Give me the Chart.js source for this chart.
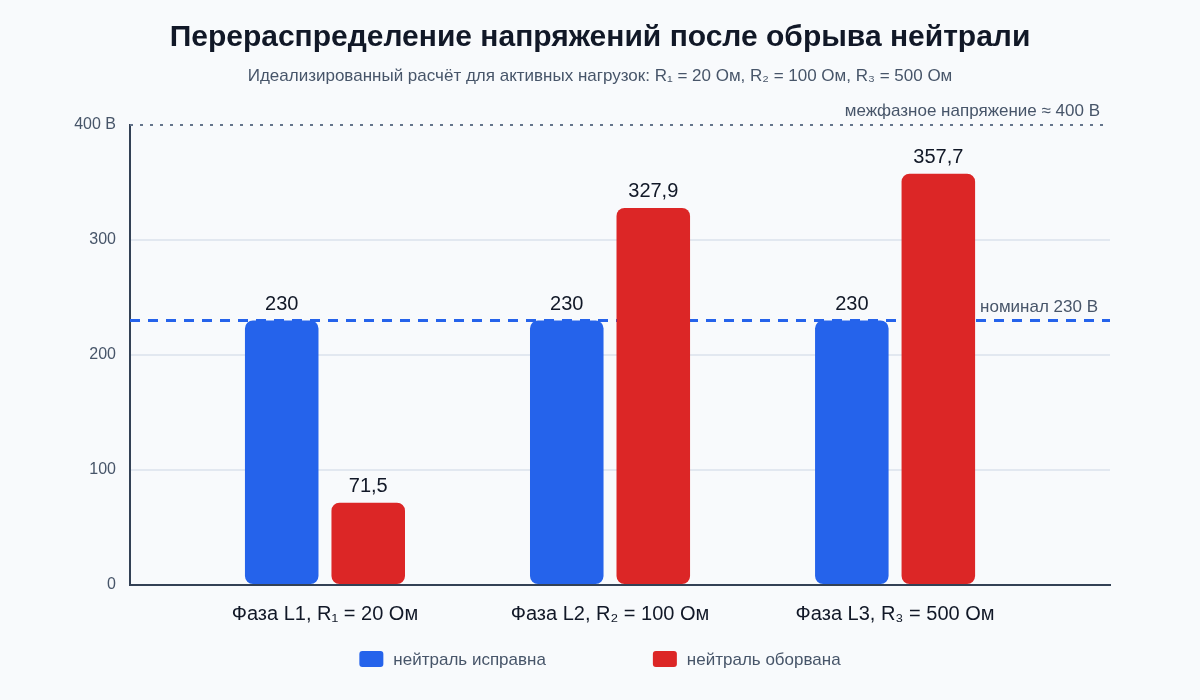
<!DOCTYPE html>
<html lang="ru">
<head>
<meta charset="utf-8">
<title>Перераспределение напряжений</title>
<script src="https://cdn.jsdelivr.net/npm/chart.js@4.4.1/dist/chart.umd.min.js"></script>
<style>
  html, body { margin: 0; padding: 0; background: #f8fafc; }
  #wrap { width: 1200px; height: 700px; }
</style>
</head>
<body>
<div id="wrap"><canvas id="voltageChart" width="1200" height="700"></canvas></div>
<script>
// data
const categories = ["Фаза L1, R₁ = 20 Ом", "Фаза L2, R₂ = 100 Ом", "Фаза L3, R₃ = 500 Ом"];
const seriesNames = ["нейтраль исправна", "нейтраль оборвана"];
const neutralOk = [230, 230, 230];
const neutralBroken = [71.5, 327.9, 357.7];
const yTicks = [0, 100, 200, 300, 400];
const nominalVoltage = 230;
const lineVoltage = 400;

const FONT = "'Liberation Sans', Arial, sans-serif";
const BLUE = "#2563eb";
const RED = "#dc2626";

const fmt = v => String(v).replace(".", ",");

// reference lines (nominal + phase-to-phase)
const refLines = {
    id: "refLines",
    beforeDatasetsDraw(chart) {
        const { ctx, chartArea: a, scales: { y } } = chart;
        ctx.save();

        let py = y.getPixelForValue(lineVoltage);
        ctx.strokeStyle = "#64748b";
        ctx.lineWidth = 2;
        ctx.setLineDash([3, 7]);
        ctx.beginPath();
        ctx.moveTo(a.left, py);
        ctx.lineTo(a.right, py);
        ctx.stroke();
        ctx.setLineDash([]);
        ctx.font = "17px " + FONT;
        ctx.fillStyle = "#475569";
        ctx.textAlign = "right";
        ctx.textBaseline = "alphabetic";
        ctx.fillText("межфазное напряжение ≈ 400 В", a.right - 10, py - 9);

        py = y.getPixelForValue(nominalVoltage);
        ctx.strokeStyle = BLUE;
        ctx.lineWidth = 3;
        ctx.setLineDash([10, 8]);
        ctx.beginPath();
        ctx.moveTo(a.left, py);
        ctx.lineTo(a.right, py);
        ctx.stroke();
        ctx.setLineDash([]);
        ctx.fillText("номинал 230 В", a.right - 12, py - 9);
        ctx.restore();
    }
};

// value labels above the bars
const valueLabels = {
    id: "valueLabels",
    afterDatasetsDraw(chart) {
        const ctx = chart.ctx;
        ctx.save();
        ctx.font = "20px " + FONT;
        ctx.fillStyle = "#111827";
        ctx.textAlign = "center";
        ctx.textBaseline = "alphabetic";
        chart.data.datasets.forEach((ds, i) => {
            chart.getDatasetMeta(i).data.forEach((bar, j) => {
                ctx.fillText(fmt(ds.data[j].y), bar.x, bar.y - 11);
            });
        });
        ctx.restore();
    }
};

// legend drawn at the bottom
const bottomLegend = {
    id: "bottomLegend",
    afterDraw(chart) {
        const ctx = chart.ctx;
        const boxW = 24, boxH = 16, textGap = 10, itemGap = 107;
        ctx.save();
        ctx.font = "17px " + FONT;
        const items = chart.data.datasets.map(ds => ({
            label: ds.label, color: ds.backgroundColor,
            w: boxW + textGap + ctx.measureText(ds.label).width
        }));
        const total = items.reduce((s, it) => s + it.w, 0) + itemGap * (items.length - 1);
        let x = chart.width / 2 - total / 2;
        const cy = 659;
        items.forEach(it => {
            ctx.fillStyle = it.color;
            ctx.beginPath();
            ctx.roundRect(x, cy - boxH / 2, boxW, boxH, 3);
            ctx.fill();
            ctx.fillStyle = "#475569";
            ctx.textAlign = "left";
            ctx.textBaseline = "middle";
            ctx.fillText(it.label, x + boxW + textGap, cy + 1);
            x += it.w + itemGap;
        });
        ctx.restore();
    }
};

const ctx = document.getElementById("voltageChart").getContext("2d");
new Chart(ctx, {
    type: "bar",
    data: {
        datasets: [{
            label: seriesNames[0],
            data: neutralOk.map((v, i) => ({ x: i, y: v })),
            backgroundColor: BLUE
        }, {
            label: seriesNames[1],
            data: neutralBroken.map((v, i) => ({ x: i, y: v })),
            backgroundColor: RED
        }]
    },
    options: {
        responsive: false,
        animation: false,
        devicePixelRatio: 1,
        categoryPercentage: 0.607,
        barPercentage: 0.85,
        borderRadius: 8,
        borderSkipped: false,
        layout: { padding: { top: 0, right: 0, bottom: 65, left: 0 } },
        plugins: {
            legend: { display: false },
            tooltip: { enabled: false },
            title: {
                display: true,
                text: "Перераспределение напряжений после обрыва нейтрали",
                color: "#111827",
                font: { family: FONT, size: 30, weight: "bold" },
                padding: { top: 20, bottom: 10 }
            },
            subtitle: {
                display: true,
                text: "Идеализированный расчёт для активных нагрузок: R₁ = 20 Ом, R₂ = 100 Ом, R₃ = 500 Ом",
                color: "#475569",
                font: { family: FONT, size: 17 },
                padding: { top: 0, bottom: 38.6 }
            }
        },
        scales: {
            x: {
                type: "linear",
                offset: false,
                min: -0.684,
                max: 2.754,
                afterBuildTicks: s => { s.ticks = categories.map((_, i) => ({ value: i })); },
                afterFit: s => { s.height = 50; },
                ticks: {
                    callback: v => categories[v] ?? "",
                    color: "#111827",
                    font: { family: FONT, size: 20 },
                    padding: 17,
                    maxRotation: 0,
                    autoSkip: false
                },
                grid: { display: false, drawTicks: false },
                border: { display: true, color: "#334155", width: 2 }
            },
            y: {
                min: 0,
                max: 400,
                afterBuildTicks: s => { s.ticks = yTicks.map(v => ({ value: v })); },
                afterFit: s => { s.width = 130; },
                ticks: {
                    callback: v => (v === lineVoltage ? v + " В" : v),
                    color: "#475569",
                    font: { family: FONT, size: 16 },
                    padding: 14
                },
                grid: {
                    drawTicks: false,
                    lineWidth: 2,
                    color: c => (c.tick && (c.tick.value === 0 || c.tick.value === lineVoltage)) ? "rgba(0,0,0,0)" : "#e2e8f0"
                },
                border: { display: true, color: "#334155", width: 2 }
            },
            // empty right-hand spacer so the plot ends where the reference does
            yRight: {
                position: "right",
                afterFit: s => { s.width = 90; },
                ticks: { display: false },
                grid: { display: false, drawTicks: false },
                border: { display: false }
            }
        }
    },
    plugins: [refLines, valueLabels, bottomLegend]
});
</script>
</body>
</html>
